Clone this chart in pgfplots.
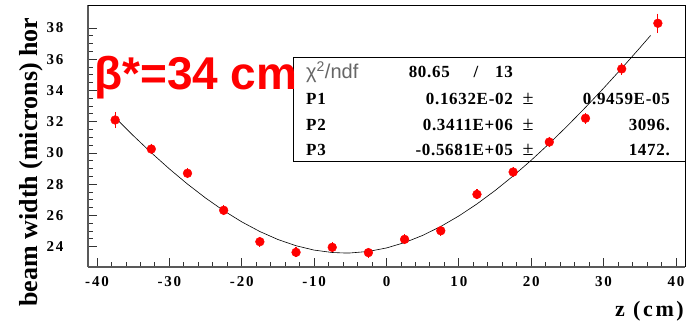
\documentclass[border=0pt]{standalone}
\usepackage{pgfplots}
\pgfplotsset{compat=1.18}
\usepackage{fontspec}
\setmainfont{Liberation Serif}
\setsansfont{Liberation Sans}
\newcommand{\tb}{\fontsize{17}{19}\selectfont\bfseries\addfontfeatures{LetterSpace=4}}
\pgfplotstableread{
z w e
-37.5 32.11 0.29
-32.5 30.25 0.12
-27.5 28.70 0.10
-22.5 26.33 0.10
-17.5 24.32 0.10
-12.5 23.64 0.10
-7.5 23.96 0.10
-2.5 23.62 0.10
2.5 24.47 0.10
7.5 25.02 0.10
12.5 27.35 0.10
17.5 28.78 0.10
22.5 30.70 0.12
27.5 32.22 0.12
32.5 35.38 0.15
37.5 38.30 0.40
}\datatab
\pgfplotstableread{
z f
-37.5 32.266
-35 31.112
-32.5 30.013
-30 28.977
-27.5 28.008
-25 27.115
-22.5 26.306
-20 25.589
-17.5 24.970
-15 24.459
-12.5 24.061
-10 23.782
-7.5 23.628
-5.681 23.594
-5 23.599
-2.5 23.697
0 23.919
2.5 24.263
5 24.724
7.5 25.294
10 25.968
12.5 26.736
15 27.592
17.5 28.527
20 29.533
22.5 30.605
25 31.734
27.5 32.916
30 34.144
32.5 35.414
35 36.722
36.5 37.523
}\fittab
\begin{document}
\begin{tikzpicture}[x=1pt,y=1pt]
\useasboundingbox (0,0) rectangle (691,322);
% statistics box
\draw[black, line width=0.8pt, fill=white] (293,161) rectangle (685,265);
\node[anchor=west, text=black!60, inner sep=0pt] at (306,250) {\fontsize{20}{22}\selectfont\sffamily χ\textsuperscript{2}/ndf};
\node[anchor=east, inner sep=0pt] at (450,250) {\tb 80.65};
\node[inner sep=0pt] at (476,250) {\tb /};
\node[anchor=east, inner sep=0pt] at (513,250) {\tb 13};
\node[anchor=west, inner sep=0pt] at (306,223) {\tb P1};
\node[anchor=west, inner sep=0pt] at (306,197) {\tb P2};
\node[anchor=west, inner sep=0pt] at (306,172) {\tb P3};
\node[anchor=east, inner sep=0pt] at (513,223) {\tb 0.1632E-02};
\node[anchor=east, inner sep=0pt] at (513,197) {\tb 0.3411E+06};
\node[anchor=east, inner sep=0pt] at (513,172) {\tb -0.5681E+05};
\node[inner sep=0pt] at (528,223) {\fontsize{20}{22}\selectfont ±};
\node[inner sep=0pt] at (528,197) {\fontsize{20}{22}\selectfont ±};
\node[inner sep=0pt] at (528,172) {\fontsize{20}{22}\selectfont ±};
\node[anchor=east, inner sep=0pt] at (670,223) {\tb 0.9459E-05};
\node[anchor=east, inner sep=0pt] at (670,197) {\tb 3096.};
\node[anchor=east, inner sep=0pt] at (670,172) {\tb 1472.};
\begin{axis}[
  at={(88pt,55pt)}, anchor=south west,
  scale only axis, width=597pt, height=262pt,
  xmin=-41.25, xmax=41.25, ymin=22.70, ymax=39.47,
  xtick={-40,-30,...,40}, ytick={24,26,...,38},
  minor x tick num=4, minor y tick num=3,
  tick align=inside,
  axis x line*=bottom, axis y line*=left,
  axis line style={black!65, line width=1.6pt},
  major tick length=9pt, minor tick length=5pt,
  every tick/.style={black!80, line width=0.9pt},
  /pgf/number format/assume math mode=true,
  ticklabel style={font=\fontsize{15}{17}\selectfont\bfseries\addfontfeatures{LetterSpace=12}},
  xticklabel style={yshift=-6pt},
  yticklabel style={xshift=-21pt},
  clip=false,
]
\addplot[black, line width=0.6pt, no marks] table[x=z, y=f] {\fittab};
\addplot[only marks, red, mark=*, mark size=4.4pt,
  error bars/.cd, y dir=both, y explicit,
  error bar style={red, line width=1.1pt},
  error mark options={red, mark size=3.5pt, line width=1.1pt}]
  table[x=z, y=w, y error=e] {\datatab};
\end{axis}
\draw[black, line width=0.8pt] (88,317) -- (685,317) -- (685,55);
\node[anchor=west, text=red, inner sep=0pt] at (94,244) {\fontsize{46}{50}\selectfont\sffamily\bfseries β*=34 cm};
\node[rotate=90, inner sep=0pt] at (31,160) {\fontsize{26}{30}\selectfont\bfseries beam width (microns) hor};
\node[anchor=east, inner sep=0pt] at (684,11) {\fontsize{22}{26}\selectfont\bfseries\addfontfeatures{LetterSpace=12}z (cm)};
\end{tikzpicture}
\end{document}
